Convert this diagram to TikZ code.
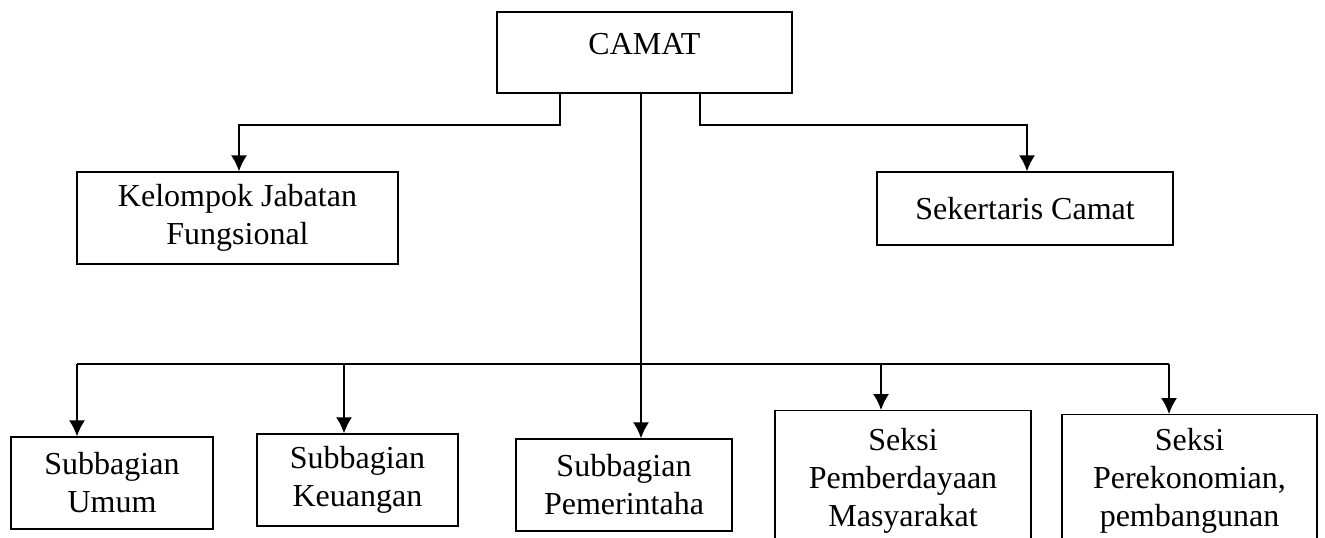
\documentclass[tikz,border=0pt]{standalone}
\usepackage{fontspec}
\setmainfont{Liberation Serif}
\usetikzlibrary{arrows.meta}

\begin{document}
\begin{tikzpicture}[x=0.75pt,y=-0.75pt,>={Latex[length=12pt,width=12pt]},
	box/.style={draw,line width=1.1pt,inner sep=0pt,align=center,font=\fontsize{24}{28.5}\selectfont},
	link/.style={line width=1.1pt}]
	\useasboundingbox (0,0) rectangle (1325,537);
	
	% Top boxes
	\node[box,minimum width=295*0.75pt,minimum height=81*0.75pt,text depth=18*0.75pt] (camat) at (644.5,52.5) {CAMAT};
	\node[box,minimum width=321*0.75pt,minimum height=92*0.75pt] (kelompok) at (237.5,218) {Kelompok Jabatan\\Fungsional};
	\node[box,minimum width=296*0.75pt,minimum height=73*0.75pt] (sekertaris) at (1025,208.5) {Sekertaris Camat};
	
	% Bottom boxes
	\node[box,minimum width=202*0.75pt,minimum height=92*0.75pt] (umum) at (112,483) {Subbagian\\Umum};
	\node[box,minimum width=201*0.75pt,minimum height=92*0.75pt] (keuangan) at (357.5,480) {Subbagian\\Keuangan};
	\node[box,minimum width=216*0.75pt,minimum height=92*0.75pt] (pemerintah) at (624,485) {Subbagian\\Pemerintaha};
	\node[box,anchor=north,minimum width=256*0.75pt,minimum height=140*0.75pt] (pemberdayaan) at (903,410) {Seksi\\Pemberdayaan\\Masyarakat};
	\node[box,anchor=north,minimum width=255*0.75pt,minimum height=132*0.75pt] (perekonomian) at (1189.5,414) {Seksi\\Perekonomian,\\pembangunan};
	
	% Bend points
	\coordinate (kl) at (560,125);
	\coordinate (kj) at (239,125);
	\coordinate (sl) at (700,125);
	\coordinate (sc) at (1027,125);
	\coordinate (b1) at (77,364);
	\coordinate (b2) at (344,364);
	\coordinate (b3) at (641,364);
	\coordinate (b4) at (881,364);
	\coordinate (b5) at (1169,364);
	
	% Connectors
	\draw[link,->] (camat.south -| kl) -- (kl) -- (kj) -- (kelompok.north -| kj);
	\draw[link,->] (camat.south -| sl) -- (sl) -- (sc) -- (sekertaris.north -| sc);
	\draw[link,->] (camat.south -| b3) -- (pemerintah.north -| b3);
	\draw[link] (b1) -- (b5);
	\foreach \b/\n in {b1/umum,b2/keuangan,b4/pemberdayaan,b5/perekonomian}
	\draw[link,->] (\b) -- (\n.north -| \b);
\end{tikzpicture}
\end{document}
